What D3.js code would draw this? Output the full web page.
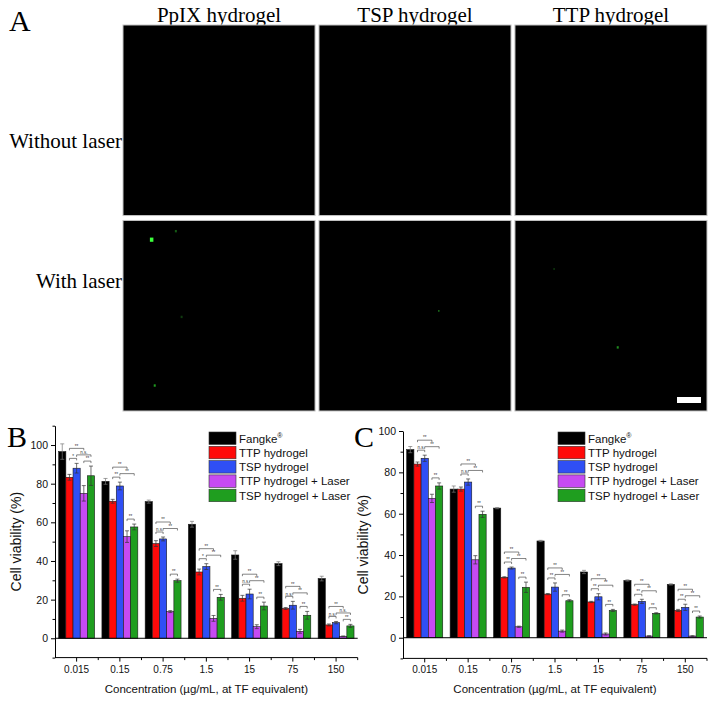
<!DOCTYPE html>
<html><head><meta charset="utf-8">
<script src="https://cdn.jsdelivr.net/npm/d3@7"></script>
<style>body{margin:0;background:#fff}</style>
</head><body><svg id="c" width="708" height="701"></svg>
<script>
// ---------- Panel A data ----------
const colTitles = ["PpIX hydrogel","TSP hydrogel","TTP hydrogel"];
const rowTitles = ["Without laser","With laser"];
// speckles: [col, row, fx, fy, size, color]
const speckles = [
  [0,1,0.14,0.09,3.5,"#3cff3c"],[0,1,0.27,0.05,2,"#145a14"],[0,1,0.16,0.86,2,"#1f9a1f"],
  [0,1,0.3,0.5,2,"#0f3a0f"],[1,1,0.62,0.47,1.5,"#1a6a1a"],[2,1,0.53,0.66,2,"#1f8a1f"],[2,1,0.2,0.25,1.5,"#0f3a0f"]
];

// ---------- Bar chart data ----------
const categories = ["0.015","0.15","0.75","1.5","15","75","150"];
const seriesNames = ["Fangke","TTP hydrogel","TSP hydrogel","TTP hydrogel + Laser","TSP hydrogel + Laser"];
const seriesColors = ["#000000","#ff0a0a","#2f4ff5","#c64af2","#1f9e1f"];
const yTicks = [0,20,40,60,80,100];
const yMinorB = [-10,10,30,50,70,90,110];
const yMinorC = [-10,10,30,50,70,90];

// Panel B values
const bFangke = [96.6, 81.2, 70.7, 59.0, 43.1, 38.6, 30.9];
const bTTP    = [83.3, 70.9, 49.0, 34.3, 20.7, 15.4, 6.9];
const bTSP    = [88.0, 78.8, 51.4, 37.1, 22.9, 17.1, 8.1];
const bTTPL   = [75.0, 52.6, 13.8, 10.3, 6.0, 3.6, 1.0];
const bTSPL   = [84.1, 57.6, 29.8, 21.2, 16.7, 11.9, 6.4];
const bFangkeErr = [4.0, 1.5, 0.8, 1.5, 2.2, 1.0, 1.2];
const bTTPErr    = [1.5, 1.0, 1.5, 1.5, 1.5, 0.5, 0.5];
const bTSPErr    = [2.5, 2.0, 1.0, 1.5, 2.5, 2.0, 0.6];
const bTTPLErr   = [4.0, 3.0, 0.5, 1.5, 1.0, 1.0, 0.2];
const bTSPLErr   = [5.0, 1.5, 0.8, 1.5, 2.0, 2.0, 0.8];
const bSigTop = ["**","**","**","**","**","**","**"];
const bSigRB  = ["*","**","n.s.","*","n.s.","n.s.","n.s."];
const bSigBG  = ["n.s.","**","**","**","**","**","n.s."];
const bSigPG  = ["**","**","**","**","**","**","**"];

// Panel C values
const cFangke = [91.0, 71.9, 62.7, 46.8, 31.8, 27.7, 25.8];
const cTTP    = [84.0, 71.9, 29.2, 21.1, 17.3, 16.0, 13.2];
const cTSP    = [86.8, 75.3, 33.7, 24.5, 19.8, 17.6, 14.7];
const cTTPL   = [67.4, 37.7, 5.3, 3.2, 1.8, 0.8, 0.8];
const cTSPL   = [73.4, 59.7, 24.4, 17.9, 13.2, 11.8, 10.0];
const cFangkeErr = [1.5, 1.5, 0.3, 0.3, 0.8, 0.3, 0.3];
const cTTPErr    = [1.0, 1.0, 0.3, 0.3, 0.3, 0.3, 0.5];
const cTSPErr    = [1.5, 1.5, 0.5, 2.0, 1.5, 1.0, 1.5];
const cTTPLErr   = [2.0, 2.0, 0.3, 0.5, 0.5, 0.2, 0.2];
const cTSPLErr   = [1.5, 1.5, 2.5, 0.5, 0.5, 0.3, 0.5];
const cSigTop = ["**","**","**","**","**","**","**"];
const cSigRB  = ["n.s.","n.s.","**","**","**","**","**"];
const cSigBG  = ["**","**","**","**","**","**","**"];
const cSigPG  = ["**","**","**","**","**","**","**"];

const xTitle = "Concentration (\u00b5g/mL, at TF equivalent)";
const yTitle = "Cell viability (%)";

const svg = d3.select("#c");
svg.append("rect").attr("width",708).attr("height",701).attr("fill","#fff");

// ---------- Panel A ----------
const SERIF = "'Liberation Serif','Times New Roman',serif";
const SANS = "'Liberation Sans',Arial,sans-serif";
svg.append("text").attr("x",9).attr("y",31).attr("font-family",SERIF).attr("font-size",30).text("A");
const colX = d3.scaleBand().domain(colTitles).range([123,707]).paddingInner(0.02).paddingOuter(0);
const rowY = d3.scaleBand().domain(rowTitles).range([25,411]).paddingInner(0.025).paddingOuter(0);
colTitles.forEach(c => {
  svg.append("text").attr("x",colX(c)+colX.bandwidth()/2).attr("y",22).attr("text-anchor","middle")
    .attr("font-family",SERIF).attr("font-size",21).text(c);
  rowTitles.forEach(r => {
    svg.append("rect").attr("x",colX(c)).attr("y",rowY(r)).attr("width",colX.bandwidth()).attr("height",rowY.bandwidth())
      .attr("fill","#000").attr("stroke","#c4c4c4").attr("stroke-width",1);
  });
});
rowTitles.forEach((r,i) => {
  svg.append("text").attr("x",122).attr("y",rowY(r)+rowY.bandwidth()/2+(i===0?28:-28)).attr("text-anchor","end")
    .attr("font-family",SERIF).attr("font-size",21).text(r);
});
speckles.forEach(s => {
  const c = colTitles[s[0]], r = rowTitles[s[1]];
  svg.append("rect").attr("x",colX(c)+s[2]*colX.bandwidth()).attr("y",rowY(r)+s[3]*rowY.bandwidth())
    .attr("width",s[4]).attr("height",s[4]*1.2).attr("fill",s[5]);
});
// scale bar
{
  const c = colTitles[2], r = rowTitles[1];
  svg.append("rect").attr("x",colX(c)+colX.bandwidth()-30).attr("y",rowY(r)+rowY.bandwidth()-14)
    .attr("width",24).attr("height",6).attr("fill","#fff");
}

// ---------- Bar panels ----------
function drawPanel(cfg) {
  const g = svg.append("g");
  const x = d3.scaleBand().domain(categories).range(cfg.xr).paddingInner(0.17).paddingOuter(0.085);
  const xs = d3.scaleBand().domain(seriesNames).range([0, x.bandwidth()]);
  const y = d3.scaleLinear().domain(cfg.yd).range(cfg.yr);
  const vals = cfg.vals, errs = cfg.errs;

  // bars
  seriesNames.forEach((s, si) => {
    g.selectAll(null).data(categories).enter().append("rect")
      .attr("x", c => x(c) + xs(s))
      .attr("y", (c, ci) => y(vals[si][ci]))
      .attr("width", xs.bandwidth())
      .attr("height", (c, ci) => y(0) - y(vals[si][ci]))
      .attr("fill", seriesColors[si]).attr("stroke", "#1a1a1a").attr("stroke-width", 0.6);
  });
  // error bars
  seriesNames.forEach((s, si) => {
    categories.forEach((c, ci) => {
      const cx = x(c) + xs(s) + xs.bandwidth()/2;
      const v = vals[si][ci], e = errs[si][ci];
      const col = si===0 ? "#777" : "#333";
      g.append("line").attr("x1",cx).attr("x2",cx).attr("y1",y(v-e)).attr("y2",y(v+e))
        .attr("stroke", col).attr("stroke-width",0.7);
      [v+e, v-e].forEach(t => g.append("line").attr("x1",cx-2).attr("x2",cx+2).attr("y1",y(t)).attr("y2",y(t))
        .attr("stroke", col).attr("stroke-width",0.7));
    });
  });
  // significance brackets
  function bracket(x1, x2, yy, label) {
    g.append("path").attr("d", `M${x1},${yy+2}V${yy}H${x2}V${yy+2}`)
      .attr("fill","none").attr("stroke","#333").attr("stroke-width",0.6);
    g.append("text").attr("x",(x1+x2)/2).attr("y",yy-0.8).attr("text-anchor","middle")
      .attr("font-family",SANS).attr("font-size",4.5).attr("fill","#333").text(label);
  }
  categories.forEach((c, ci) => {
    const cen = si => x(c) + xs(seriesNames[si]) + xs.bandwidth()/2;
    const rbTop = Math.max(vals[1][ci]+errs[1][ci], vals[2][ci]+errs[2][ci]);
    const rbY = y(rbTop) - 5;
    bracket(cen(1), cen(2), rbY, cfg.sig[1][ci]);
    bracket(cen(2), cen(4), rbY - 3.5, cfg.sig[2][ci]);
    bracket(cen(1), cen(3), rbY - 10, cfg.sig[0][ci]);
    const pgTop = Math.max(vals[3][ci]+errs[3][ci], vals[4][ci]+errs[4][ci]);
    bracket(cen(3), cen(4), y(pgTop) - 5, cfg.sig[3][ci]);
  });

  // zero line
  g.append("line").attr("x1",cfg.xr[0]).attr("x2",cfg.xr[1]).attr("y1",y(0)).attr("y2",y(0))
    .attr("stroke","#000").attr("stroke-width",1);

  // y axis
  const ya = g.append("g").attr("transform",`translate(${cfg.xr[0]},0)`)
    .call(d3.axisLeft(y).tickValues(yTicks).tickSize(4).tickSizeOuter(0).tickPadding(3));
  ya.selectAll("text").attr("font-family",SANS).attr("font-size",10.5).attr("fill","#111");
  g.append("g").attr("transform",`translate(${cfg.xr[0]},0)`)
    .call(d3.axisLeft(y).tickValues(cfg.minor).tickSize(2.5).tickFormat("").tickSizeOuter(0))
    .select(".domain").remove();

  // x axis at bottom
  const xa = g.append("g").attr("transform",`translate(0,${y(cfg.yd[0])})`)
    .call(d3.axisBottom(x).tickSize(4).tickSizeOuter(0).tickPadding(4));
  xa.select(".domain").attr("d", `M${cfg.xr[0]},0H${cfg.xr[1]}`);
  xa.selectAll("text").attr("font-family",SANS).attr("font-size",10).attr("fill","#111");
  // minor x ticks at band boundaries
  const bounds = categories.map(c => x(c) - x.step()*x.paddingInner()/2).concat([cfg.xr[1]]).slice(1);
  bounds.forEach(bx => g.append("line").attr("x1",bx).attr("x2",bx)
    .attr("y1",y(cfg.yd[0])).attr("y2",y(cfg.yd[0])+2.5).attr("stroke","#000"));
  svg.selectAll(".domain").attr("stroke-width",1);

  // titles
  g.append("text").attr("x",(cfg.xr[0]+cfg.xr[1])/2).attr("y",693).attr("text-anchor","middle")
    .attr("font-family",SANS).attr("font-size",11.5).attr("fill","#111").text(xTitle);
  const ym = (cfg.yr[0]+cfg.yr[1])/2;
  g.append("text").attr("transform",`translate(${cfg.ytx},${ym}) rotate(-90)`).attr("text-anchor","middle")
    .attr("font-family",SANS).attr("font-size",14).attr("fill","#111").text(yTitle);

  // letter
  g.append("text").attr("x",cfg.lx).attr("y",447).attr("font-family",SERIF).attr("font-size",30).text(cfg.letter);

  // legend
  seriesNames.forEach((s, si) => {
    const ty = 432 + si*14.3;
    g.append("rect").attr("x",cfg.legx).attr("y",ty).attr("width",27).attr("height",12.5)
      .attr("fill",seriesColors[si]).attr("stroke","#333").attr("stroke-width",0.6);
    const t = g.append("text").attr("x",cfg.legx+30).attr("y",ty+10.5)
      .attr("font-family",SANS).attr("font-size",11.5).attr("fill","#111").text(s);
    if (si === 0) t.append("tspan").attr("font-size",7).attr("dy",-4.5).text("\u00ae");
  });
}

drawPanel({
  xr:[55,357.7], yd:[-10,110], yr:[657.6,425.7], minor:yMinorB,
  vals:[bFangke,bTTP,bTSP,bTTPL,bTSPL], errs:[bFangkeErr,bTTPErr,bTSPErr,bTTPLErr,bTSPLErr],
  sig:[bSigTop,bSigRB,bSigBG,bSigPG], ytx:21, lx:7, letter:"B", legx:209
});
drawPanel({
  xr:[403,707], yd:[-10,100], yr:[658.4,431], minor:yMinorC,
  vals:[cFangke,cTTP,cTSP,cTTPL,cTSPL], errs:[cFangkeErr,cTTPErr,cTSPErr,cTTPLErr,cTSPLErr],
  sig:[cSigTop,cSigRB,cSigBG,cSigPG], ytx:368, lx:354, letter:"C", legx:558
});
</script></body></html>
